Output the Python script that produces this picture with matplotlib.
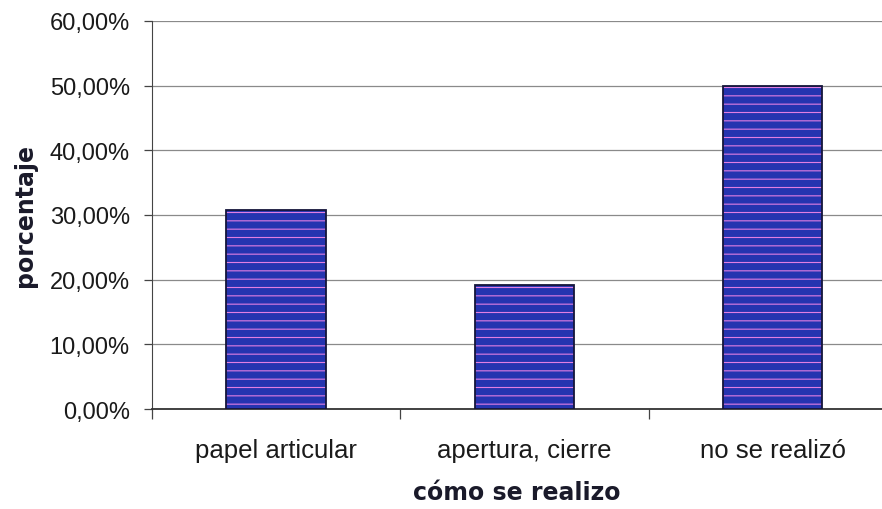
import matplotlib
matplotlib.use("Agg")
import matplotlib.pyplot as plt
from matplotlib.ticker import FuncFormatter

plt.rcParams['font.family'] = ['Liberation Sans', 'DejaVu Sans']
plt.rcParams['hatch.linewidth'] = 0.8

# data
categories = ['papel articular', 'apertura, cierre', 'no se realizó']
values = [30.77, 19.23, 50.00]
y_ticks = [0, 10, 20, 30, 40, 50, 60]

fig = plt.figure(figsize=(8.82, 5.10), dpi=100)
ax = fig.add_axes([0.1723, 0.196, 0.8277, 0.761])

x = list(range(len(categories)))
# fill with pink horizontal hatch, then a dark outline on top
ax.bar(x, values, width=0.40, color='#2534b0', edgecolor='#e27ee2',
       linewidth=0, hatch='--', zorder=3)
ax.bar(x, values, width=0.40, fill=False, edgecolor='#15153a',
       linewidth=1.3, zorder=4)

ax.set_xlim(-0.5, 2.44)
ax.set_ylim(0, 60)
ax.set_yticks(y_ticks)
ax.yaxis.set_major_formatter(FuncFormatter(lambda v, p: f'{v:.2f}%'.replace('.', ',')))
ax.grid(axis='y', color='#8a8a8a', linewidth=0.9, zorder=0)

# category labels centred, ticks at the boundaries
ax.set_xticks(x)
ax.set_xticklabels(categories, fontsize=18.5, color='#1a1a1a')
ax.tick_params(axis='x', which='major', length=0, pad=21)
ax.set_xticks([-0.5, 0.5, 1.5], minor=True)
ax.tick_params(axis='x', which='minor', length=7, width=0.9, color='#444444')
ax.tick_params(axis='y', length=6, width=0.9, color='#444444', labelsize=17,
               labelcolor='#1a1a1a', pad=10)

for s in ['top', 'right']:
    ax.spines[s].set_visible(False)
ax.spines['left'].set_color('#444444')
ax.spines['bottom'].set_color('#333333')
ax.spines['bottom'].set_linewidth(1.3)

# axis titles: wide bold face
ax.set_xlabel('cómo se realizo', fontsize=17, fontweight='bold', labelpad=13,
              color='#1a1a2a', family='DejaVu Sans')
ax.set_ylabel('porcentaje', fontsize=17, fontweight='bold', labelpad=9,
              color='#1a1a2a', family='DejaVu Sans')

fig.savefig('out.png', dpi=100)
